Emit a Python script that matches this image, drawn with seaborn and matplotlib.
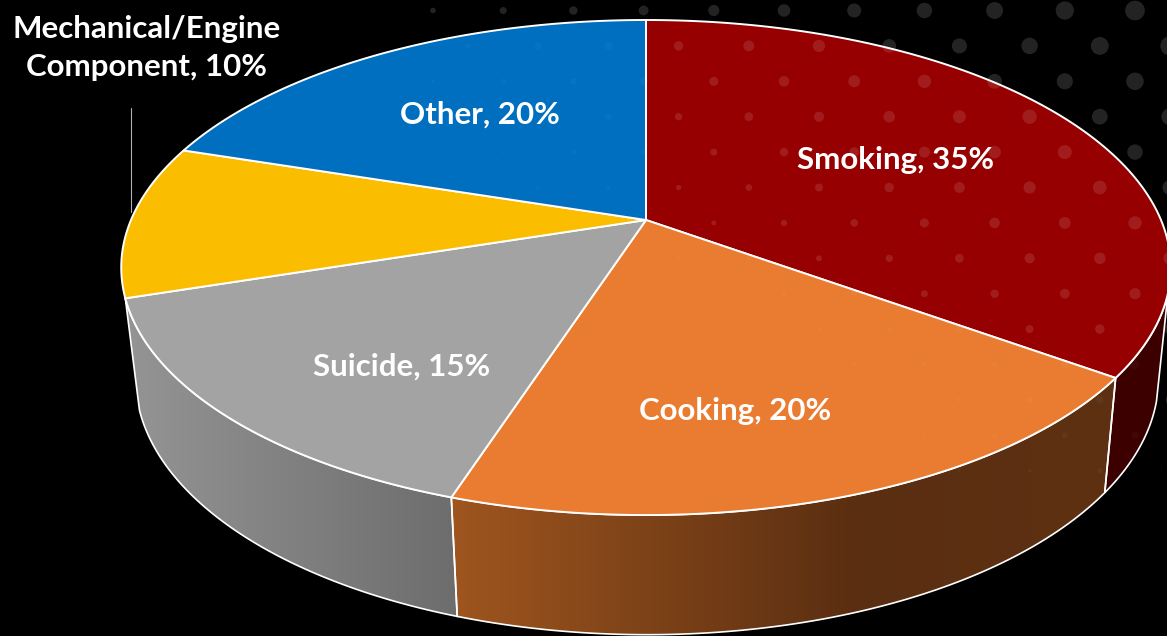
import numpy as np
import matplotlib
matplotlib.use("Agg")
import matplotlib.pyplot as plt
from matplotlib.colors import LinearSegmentedColormap
from matplotlib.patches import Polygon
import seaborn as sns

# slices, clockwise from 12 o'clock
categories = ["Smoking", "Cooking", "Suicide", "Mechanical/Engine\nComponent", "Other"]
values = [35, 20, 15, 10, 20]
colors = ["#960000", "#E97C30", "#A3A3A3", "#FBBD00", "#006FBF"]
label_pos = [(896, 160), (735, 411), (402, 367), (147, 48), (480, 115)]

W, H = 1167, 636

sns.set_theme(style="dark", rc={"axes.facecolor": "black", "figure.facecolor": "black"})
plt.rcParams["font.family"] = ["Lato", "DejaVu Sans"]
palette = sns.color_palette(colors)


def project(theta, cy, a, b, cx=645):
    # circle seen in perspective, theta in degrees clockwise from the top
    u = np.sin(np.radians(theta))
    v = np.cos(np.radians(theta))
    w = 1 + 0.192 * v
    return cx + a * u / w, cy - b * v / w


def top_ring(theta):
    return project(theta, 220, 515, 238.4, cx=646)


def low_ring(theta):
    return project(theta, 329, 502, 247, cx=647)


def wall(ax, top_range, low_range, stops, x0, x1):
    xt, yt = top_ring(np.linspace(*top_range, 80))
    xb, yb = low_ring(np.linspace(*low_range, 80)[::-1])
    pts = np.column_stack([np.r_[xt, xb], np.r_[yt, yb]])
    cmap = LinearSegmentedColormap.from_list("wall", stops)
    im = ax.imshow(
        np.linspace(0, 1, 256)[None, :],
        cmap=cmap,
        extent=(x0, x1, H, 0),
        aspect="auto",
        zorder=1,
    )
    poly = Polygon(pts, closed=True, facecolor="none", edgecolor="white", lw=1.2, zorder=2)
    ax.add_patch(poly)
    im.set_clip_path(poly)


def dots(ax, x, y, size, alpha, zorder):
    return sns.scatterplot(
        x=x, y=y, s=size, color="white", alpha=alpha, linewidth=0,
        ax=ax, zorder=zorder, legend=False,
    )


fig, ax = plt.subplots(figsize=(W / 100, H / 100), dpi=100)
fig.subplots_adjust(0, 0, 1, 1)

# halftone dots of the slide background
dx, dy = [], []
for row in range(14):
    start = 430 if row % 2 == 0 else 465
    for x in np.arange(start, W + 20, 70.2):
        dx.append(x + 3)
        dy.append(10.5 + 35.4 * row)
dx, dy = np.array(dx), np.array(dy)
r = 5.5 + 0.01 * (dx - 700) - 0.015 * (dy - 10)
keep = r > 1
dx, dy, ds = dx[keep], dy[keep], (2 * r[keep] * 0.72) ** 2
dots(ax, dx, dy, ds, 0.11, 0)

# side walls
wall(ax, (101, 126), (106, 126), [(0, "#3C0000"), (1, "#3C0000")], 1000, W + 10)
wall(ax, (126, 198), (126, 198), [(0, "#A0561F"), (0.61, "#5A2E11"), (1, "#5F3113")], 445, 1120)
wall(ax, (198, 252), (198, 252), [(0, "#959595"), (1, "#6C6C6C")], 120, 465)

# top face
edges = np.r_[0, np.cumsum(values)] / sum(values) * 360
wedges = []
for i, col in enumerate(palette):
    th = np.linspace(edges[i], edges[i + 1], 120)
    x, y = top_ring(th)
    wedges += ax.fill(
        np.r_[646, x],
        np.r_[220, y],
        facecolor=col,
        edgecolor="white",
        lw=1.4,
        joinstyle="round",
        zorder=3,
    )

# dots show through the whole chart only faintly, more on the red slice
dots(ax, dx, dy, ds, 0.035, 4)
n_before = len(ax.collections)
dots(ax, dx, dy, ds, 0.085, 4)
ax.collections[n_before].set_clip_path(wedges[0])

# leader for the outside label
ax.plot([130.5, 130.5], [108, 212], color="#B0B0B0", lw=0.8, zorder=2)

for cat, val, (lx, ly) in zip(categories, values, label_pos):
    ax.text(
        lx,
        ly,
        f"{cat}, {val}%",
        color="white",
        fontsize=22.5,
        fontweight="bold",
        ha="center",
        va="center",
        linespacing=1.47,
        zorder=5,
    )

ax.set_xlim(0, W)
ax.set_ylim(H, 0)
ax.axis("off")

fig.savefig("out.png", dpi=100, facecolor="black")
